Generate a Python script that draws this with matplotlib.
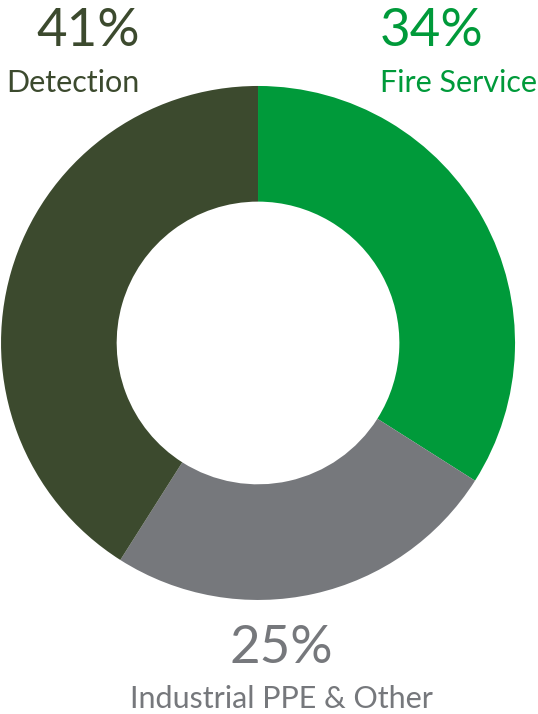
import matplotlib.pyplot as plt

plt.rcParams['font.family'] = ['Lato', 'DejaVu Sans']

# market split by segment
segments = ["Fire Service", "Industrial PPE & Other", "Detection"]
shares = [34, 25, 41]
colors = ["#009a3a", "#76787c", "#3c4a2e"]

fig = plt.figure(figsize=(5.38, 7.14), dpi=100)

# donut, clockwise from 12 o'clock
ax = fig.add_axes([0.0019, 0.1597, 0.9554, 0.7199])
ax.pie(shares, colors=colors, startangle=90, counterclock=False,
       radius=1.0, wedgeprops=dict(width=0.45, linewidth=0))
ax.set_xlim(-1, 1)
ax.set_ylim(-1, 1)
ax.set_aspect("equal")
ax.axis("off")

W, H = 538, 714
# (pct x center, name x center, pct baseline, name baseline) in px
label_pos = {
    "Detection": (88, 73, 46, 92),
    "Fire Service": (432, 458, 46, 92),
    "Industrial PPE & Other": (281, 281, 663, 708),
}
for name, pct, col in zip(segments, shares, colors):
    xp, xn, yp, yn = label_pos[name]
    fig.text(xp / W, 1 - yp / H, f"{pct}%", color=col, fontsize=38,
             ha="center", va="baseline")
    fig.text(xn / W, 1 - yn / H, name, color=col, fontsize=22,
             ha="center", va="baseline")

fig.savefig("out.png", dpi=100)
